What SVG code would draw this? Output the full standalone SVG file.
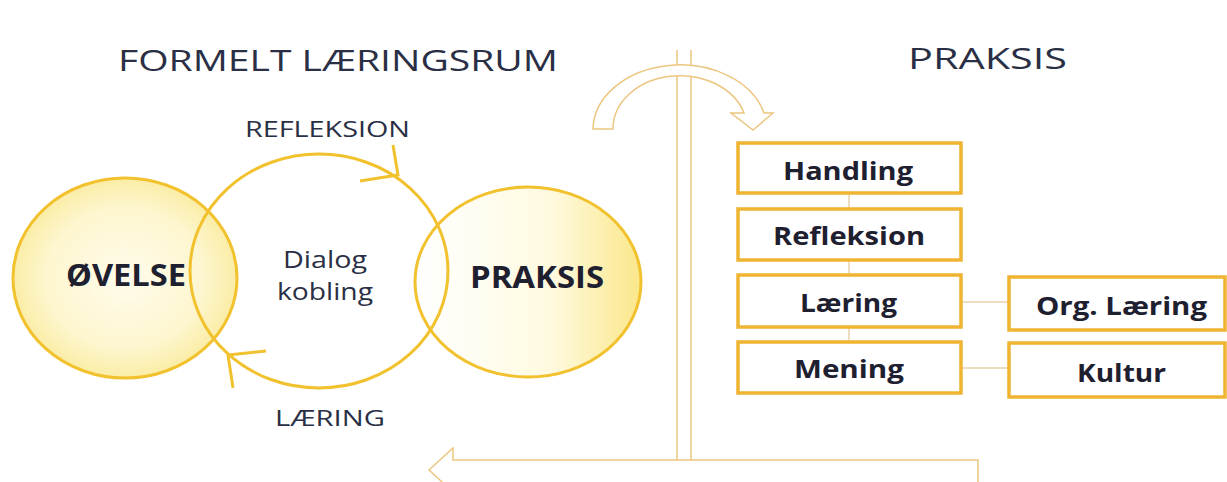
<svg xmlns="http://www.w3.org/2000/svg" width="1227" height="482" viewBox="0 0 1227 482">
<defs>
<radialGradient id="gL" cx="0.5" cy="0.5" r="0.5">
<stop offset="0" stop-color="#fffcec"/>
<stop offset="0.7" stop-color="#fdf6cf"/>
<stop offset="1" stop-color="#fbeda6"/>
</radialGradient>
<linearGradient id="gR" x1="0" y1="0" x2="1" y2="0">
<stop offset="0" stop-color="#ffffff"/>
<stop offset="0.6" stop-color="#fefae0"/>
<stop offset="1" stop-color="#fbe78a"/>
</linearGradient>
<style>
.ttl{font-family:"Open Sans","Liberation Sans",sans-serif;font-size:30px;fill:#2a2f45}
.lbl{font-family:"Open Sans","Liberation Sans",sans-serif;font-size:21px;fill:#2a2f45}
.mid{font-family:"Open Sans","Liberation Sans",sans-serif;font-size:24px;fill:#2a2f45}
.big{font-family:"Open Sans","Liberation Sans",sans-serif;font-size:31px;font-weight:700;fill:#1e2030}
.box{fill:#ffffff;stroke:#f0b432;stroke-width:3.5}
.btx{font-family:"Open Sans","Liberation Sans",sans-serif;font-size:25px;font-weight:700;fill:#1e2030}
.ring{fill:none;stroke:#f2c12e;stroke-width:3}
.con{stroke:#e8d2a8;stroke-width:1.5;fill:none}
.div{stroke:#ecc680;stroke-width:1.5;fill:#ffffff}
</style>
</defs>
<rect width="1227" height="482" fill="#ffffff"/>

<g id="dividers">
<path class="div" d="M429,470 L453,448 L453,460 L978,460 L978,490 L453,490 L453,492 Z"/>
<line class="div" x1="677" y1="50" x2="677" y2="460"/>
<line class="div" x1="691" y1="50" x2="691" y2="460"/>
<path class="div" d="M593,129 A87,65 0 0 1 764,113 L773,113 L753,130 L731,113 L744,113 A67,53 0 0 0 613,129 Z"/>
</g>

<g id="titles">
<text class="ttl" x="118" y="71" textLength="440" lengthAdjust="spacingAndGlyphs">FORMELT LÆRINGSRUM</text>
<text class="ttl" x="908" y="69" textLength="159" lengthAdjust="spacingAndGlyphs">PRAKSIS</text>
</g>

<g id="ovelse">
<ellipse cx="125" cy="278" rx="112" ry="100" fill="url(#gL)"/>
</g>
<g id="praksis-circle">
<ellipse cx="528" cy="282" rx="113" ry="95" fill="url(#gR)"/>
</g>
<g id="rings">
<ellipse class="ring" cx="125" cy="278" rx="112" ry="100"/>
<ellipse class="ring" cx="528" cy="282" rx="113" ry="95"/>
<ellipse class="ring" cx="319" cy="271" rx="129" ry="117"/>
<path class="ring" d="M393,145 L398,175 L360,181"/>
<path class="ring" d="M266,351 L228,355 L233,388"/>
</g>
<g id="circle-labels">
<text class="big" x="66" y="286" textLength="120" lengthAdjust="spacingAndGlyphs">ØVELSE</text>
<text class="big" x="470" y="288" textLength="134" lengthAdjust="spacingAndGlyphs">PRAKSIS</text>
<text class="mid" x="283" y="268" textLength="84" lengthAdjust="spacingAndGlyphs">Dialog</text>
<text class="mid" x="277" y="300" textLength="96" lengthAdjust="spacingAndGlyphs">kobling</text>
<text class="lbl" x="245" y="137" textLength="165" lengthAdjust="spacingAndGlyphs">REFLEKSION</text>
<text class="lbl" x="275" y="426" textLength="110" lengthAdjust="spacingAndGlyphs">LÆRING</text>
</g>

<g id="connectors">
<line class="con" x1="849" y1="193" x2="849" y2="209"/>
<line class="con" x1="849" y1="260" x2="849" y2="275"/>
<line class="con" x1="849" y1="327" x2="849" y2="342"/>
<line class="con" x1="961" y1="302" x2="1009" y2="302"/>
<line class="con" x1="961" y1="368" x2="1009" y2="368"/>
</g>

<g id="handling"><rect class="box" x="738" y="143" width="223" height="50"/><text class="btx" x="783" y="180" textLength="130" lengthAdjust="spacingAndGlyphs">Handling</text></g>
<g id="refleksion"><rect class="box" x="738" y="209" width="223" height="51"/><text class="btx" x="773" y="245" textLength="152" lengthAdjust="spacingAndGlyphs">Refleksion</text></g>
<g id="laering"><rect class="box" x="738" y="275" width="223" height="52"/><text class="btx" x="800" y="312" textLength="97" lengthAdjust="spacingAndGlyphs">Læring</text></g>
<g id="mening"><rect class="box" x="738" y="342" width="223" height="51"/><text class="btx" x="794" y="378" textLength="110" lengthAdjust="spacingAndGlyphs">Mening</text></g>
<g id="org-laering"><rect class="box" x="1009" y="277" width="216" height="53"/><text class="btx" x="1036" y="315" textLength="171" lengthAdjust="spacingAndGlyphs">Org. Læring</text></g>
<g id="kultur"><rect class="box" x="1009" y="343" width="216" height="54"/><text class="btx" x="1077" y="382" textLength="89" lengthAdjust="spacingAndGlyphs">Kultur</text></g>
</svg>
